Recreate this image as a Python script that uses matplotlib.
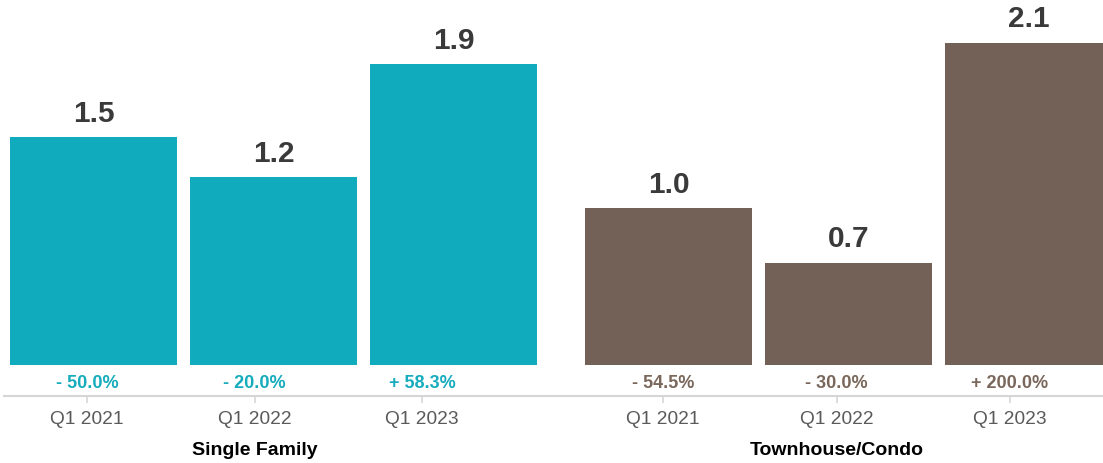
import matplotlib
matplotlib.use("Agg")
import matplotlib.pyplot as plt

plt.rcParams["font.family"] = ["Liberation Sans", "DejaVu Sans"]

# Data
groups = ["Single Family", "Townhouse/Condo"]
quarters = ["Q1 2021", "Q1 2022", "Q1 2023"]
single_family = [1.47, 1.21, 1.94]
townhouse = [1.01, 0.66, 2.08]
single_family_change = ["- 50.0%", "- 20.0%", "+ 58.3%"]
townhouse_change = ["- 54.5%", "- 30.0%", "+ 200.0%"]

values = [single_family, townhouse]
changes = [single_family_change, townhouse_change]
colors = ["#10acbe", "#736157"]
text_colors = ["#16acbd", "#7a675b"]

# Layout (pixel-like x units)
bar_starts = [10, 585]
bar_step = 180
bar_width = 167
tick_starts = [87, 663]
tick_steps = [167.5, 173.5]

fig = plt.figure(figsize=(11.03, 4.64), dpi=100)
ax = fig.add_axes([4 / 1103, 1 - 397 / 464, 1 - 4 / 1103, 397 / 464])
ax.set_xlim(4, 1103)
ax.set_ylim(-31 / 155, 366 / 155)

tick_pos, tick_labels = [], []
for g, name in enumerate(groups):
    lefts = [bar_starts[g] + i * bar_step for i in range(len(quarters))]
    ax.bar(lefts, values[g], width=bar_width, align="edge", color=colors[g],
           bottom=0, zorder=2)
    for left, v in zip(lefts, values[g]):
        ax.text(left + bar_width / 2, v + 0.068, f"{v:.1f}", ha="center", va="bottom",
                fontsize=21.5, fontweight="bold", color="#3a3a3a")
    ticks = [tick_starts[g] + i * tick_steps[g] for i in range(len(quarters))]
    for t, c in zip(ticks, changes[g]):
        ax.text(t, -0.11, c, ha="center", va="center", fontsize=13,
                fontweight="bold", color=text_colors[g])
    ax.text(ticks[1], -0.542, name, ha="center", va="center", fontsize=14,
            fontweight="bold", color="black", clip_on=False)
    tick_pos += ticks
    tick_labels += quarters

ax.set_xticks(tick_pos)
ax.set_xticklabels(tick_labels, fontsize=13.8, color="#5a5a5a")
ax.tick_params(axis="x", length=5, width=1.2, color="#d6d6d6", pad=5)
ax.set_yticks([])
for side in ["top", "right", "left"]:
    ax.spines[side].set_visible(False)
ax.spines["bottom"].set_color("#d6d6d6")
ax.spines["bottom"].set_linewidth(1.5)
ax.patch.set_alpha(0)

fig.savefig("out.png", dpi=100)
